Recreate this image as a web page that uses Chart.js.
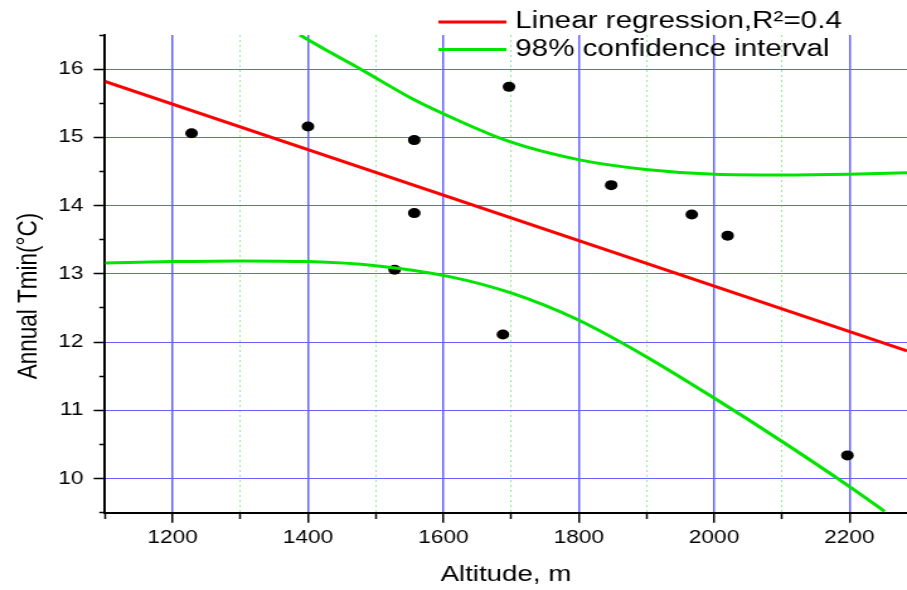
<!DOCTYPE html>
<html>
<head>
<meta charset="utf-8">
<script src="https://cdn.jsdelivr.net/npm/chart.js@4/dist/chart.umd.min.js"></script>
<style>
  html, body { margin: 0; padding: 0; background: #fff; overflow: hidden; }
  /* a figura original foi esticada na horizontal, entao esticamos tambem */
  #wrap { width: 720px; height: 590px; transform: scaleX(1.2597); transform-origin: 0 0; }
</style>
</head>
<body>
<div id="wrap"><canvas id="grafico" width="720" height="590"></canvas></div>
<script>
// pontos medidos (altitude em m, Tmin anual em C)
const altitude = [1228, 1400, 1557, 1557, 1528, 1697, 1688, 1848, 1967, 2020, 2197];
const tmin = [15.06, 15.16, 14.96, 13.89, 13.06, 15.74, 12.11, 14.30, 13.87, 13.56, 10.34];

// reta de regressao (extremos)
const regX = [1100, 2285];
const regY = [15.82, 11.87];

// limites do intervalo de confianca 98%
const supX = [1388, 1432, 1476, 1557, 1599, 1697, 1801, 1899, 2001, 2100, 2199, 2285];
const supY = [16.5, 16.25, 16.01, 15.55, 15.35, 14.94, 14.67, 14.53, 14.46, 14.45, 14.46, 14.48];
const infX = [1100, 1200, 1300, 1400, 1500, 1609, 1700, 1798, 1899, 2000, 2101, 2199, 2252];
const infY = [13.16, 13.18, 13.19, 13.18, 13.12, 12.96, 12.72, 12.33, 11.79, 11.18, 10.54, 9.89, 9.52];

// marcas dos eixos
const ticksX = [1100, 1200, 1300, 1400, 1500, 1600, 1700, 1800, 1900, 2000, 2100, 2200];
const ticksY = [9.5, 10, 10.5, 11, 11.5, 12, 12.5, 13, 13.5, 14, 14.5, 15, 15.5, 16, 16.5];

const fonte = '"Liberation Sans", Arial, sans-serif';
const azul = '#6464ff';
const verde = '#00e400';

function pares(xs, ys) {
    return xs.map((x, i) => ({ x: x, y: ys[i] }))
}

function ehMaiorX(c) { return c.tick && c.tick.value % 200 === 0 }
function ehMaiorY(c) { return c.tick && Number.isInteger(c.tick.value) }

// legenda e titulo do eixo y desenhados por cima da area do grafico
const legendaPlugin = {
    id: 'legenda',
    afterDraw(chart) {
        const ctx = chart.ctx;
        const itens = chart.data.datasets.filter(d => d.legenda);
        ctx.save();
        ctx.font = '23.5px ' + fonte;
        ctx.textBaseline = 'middle';
        ctx.fillStyle = '#000';
        itens.forEach((d, i) => {
            const y = 22 + i * 27.5;
            ctx.strokeStyle = d.borderColor;
            ctx.lineWidth = 3;
            ctx.beginPath();
            ctx.moveTo(348, y);
            ctx.lineTo(402, y);
            ctx.stroke();
            ctx.fillText(d.label, 409, y);
        });
        ctx.translate(23, 296);
        ctx.rotate(-Math.PI / 2);
        ctx.textAlign = 'center';
        ctx.font = '22.5px ' + fonte;
        ctx.fillText('Annual Tmin(°C)', 0, 0);
        ctx.restore();
    }
};

const config = {
    type: 'scatter',
    data: {
        datasets: [{
            label: 'Linear regression,R²=0.4',
            legenda: true,
            data: pares(regX, regY),
            showLine: true,
            borderColor: '#ff0000',
            borderWidth: 3,
            pointRadius: 0,
            clip: 0,
            order: 1
        }, {
            label: '98% confidence interval',
            legenda: true,
            data: pares(infX, infY),
            showLine: true,
            cubicInterpolationMode: 'monotone',
            borderColor: verde,
            borderWidth: 3,
            pointRadius: 0,
            clip: 0,
            order: 2
        }, {
            label: 'sup',
            data: pares(supX, supY),
            showLine: true,
            cubicInterpolationMode: 'monotone',
            borderColor: verde,
            borderWidth: 3,
            pointRadius: 0,
            clip: 0,
            order: 2
        }, {
            label: 'Dados',
            data: pares(altitude, tmin),
            pointRadius: 5,
            pointBackgroundColor: '#000',
            pointBorderWidth: 0,
            order: 3
        }]
    },
    options: {
        animation: false,
        responsive: false,
        devicePixelRatio: 1,
        layout: { autoPadding: false, padding: { top: 35, left: 0, right: 0, bottom: 0 } },
        plugins: {
            legend: { display: false },
            tooltip: { enabled: false }
        },
        scales: {
            x: {
                type: 'linear',
                min: 1100,
                max: 2285,
                afterBuildTicks: s => { s.ticks = ticksX.map(v => ({ value: v })) },
                afterFit: s => {
                    s.height = 77.3
                    s.paddingLeft = 0
                    s.paddingRight = 0
                },
                ticks: {
                    color: '#000',
                    padding: 5,
                    font: { family: fonte, size: 18 },
                    callback: v => (v % 200 === 0 ? String(v) : '')
                },
                grid: {
                    color: c => ehMaiorX(c) ? azul : '#8fef8f',
                    lineWidth: c => ehMaiorX(c) ? 1.5 : 1,
                    tickLength: 10,
                    tickColor: '#000',
                    tickWidth: 1.5,
                    tickBorderDash: c => ehMaiorX(c) ? [] : [5, 100]
                },
                border: {
                    color: '#000',
                    width: 2,
                    dash: c => (c.tick && !ehMaiorX(c)) ? [2, 3] : []
                },
                title: {
                    display: true,
                    text: 'Altitude, m',
                    color: '#000',
                    font: { family: fonte, size: 22 },
                    padding: { top: 0, bottom: 2 }
                }
            },
            y: {
                type: 'linear',
                min: 9.5,
                max: 16.5,
                afterBuildTicks: s => { s.ticks = ticksY.map(v => ({ value: v })) },
                afterFit: s => {
                    s.width = 83.3
                    s.paddingTop = 0
                    s.paddingBottom = 0
                },
                ticks: {
                    color: '#000',
                    padding: 8,
                    font: { family: fonte, size: 18 },
                    callback: v => (Number.isInteger(v) ? String(v) : '')
                },
                grid: {
                    color: c => ehMaiorY(c) ? azul : 'rgba(0,0,0,0)',
                    lineWidth: 1,
                    tickLength: 9,
                    tickColor: '#000',
                    tickWidth: 1.5,
                    tickBorderDash: c => ehMaiorY(c) ? [] : [0, 4.5, 4.5, 100]
                },
                border: { color: '#000', width: 2 }
            }
        }
    },
    plugins: [legendaPlugin]
};

const grafico = new Chart(document.getElementById('grafico'), config);
</script>
</body>
</html>
